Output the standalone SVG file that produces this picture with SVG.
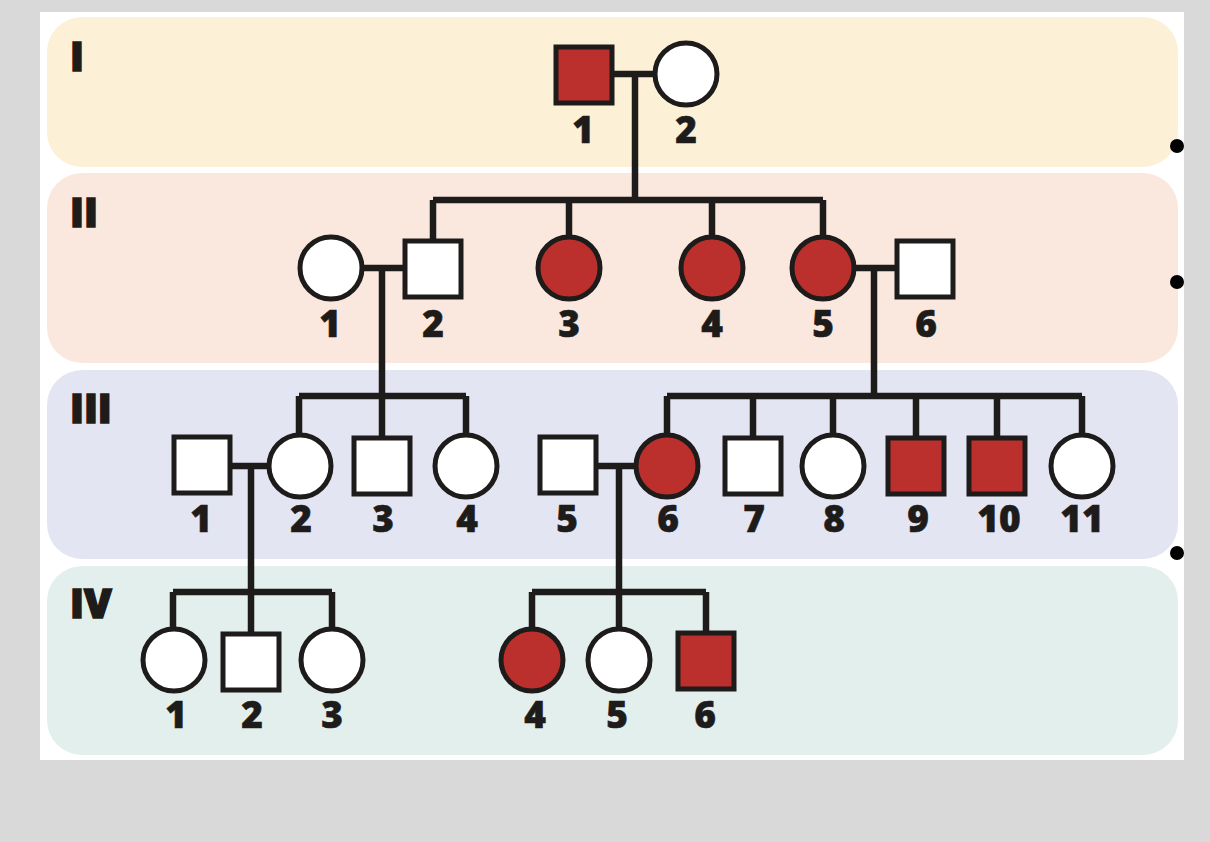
<svg xmlns="http://www.w3.org/2000/svg" width="1210" height="842" viewBox="0 0 1210 842">
<style>
.sym{stroke:#1e1b1b;stroke-width:5}
.n{fill:#fff}
.a{fill:#bb2f2c}
.ln{fill:none;stroke:#1e1b1b;stroke-width:6.5;stroke-linecap:butt;stroke-linejoin:miter}
.lb{font-family:"Open Sans","Liberation Sans",sans-serif;font-weight:800;font-size:37px;fill:#1e1b1b;stroke:#1e1b1b;stroke-width:0.6;text-anchor:middle}
.gen{font-family:"Open Sans","Liberation Sans",sans-serif;font-weight:800;font-size:40px;fill:#1e1b1b;stroke:#1e1b1b;stroke-width:1.6}
.dot{fill:#000}
</style>
<rect x="0" y="0" width="1210" height="842" fill="#d9d9d9"/>
<rect x="40" y="12" width="1144" height="748" fill="#fff"/>
<g id="bands">
<rect x="47" y="17" width="1131" height="150" rx="35" fill="#fcf0d6"/>
<rect x="47" y="173" width="1131" height="190" rx="35" fill="#fae8de"/>
<rect x="47" y="370" width="1131" height="189" rx="35" fill="#e4e5f3"/>
<rect x="47" y="566" width="1131" height="189" rx="35" fill="#e3efec"/>
</g>
<g id="generations">
<text class="gen" x="70" y="71">I</text>
<text class="gen" x="70" y="227">II</text>
<text class="gen" x="70" y="423">III</text>
<text class="gen" x="70" y="618">IV</text>
</g>
<g id="dots">
<circle class="dot" cx="1177" cy="146" r="7"/>
<circle class="dot" cx="1177" cy="282" r="7"/>
<circle class="dot" cx="1177" cy="553" r="7"/>
</g>
<g id="connectors">
<path class="ln" d="M614 74H654M635 74V200M433 200H823M433 200V240M569 200V236M712 200V236M823 200V236"/>
<path class="ln" d="M362 268H404M382 268V396M299 396H466M299 396V434M382 396V436M466 396V434"/>
<path class="ln" d="M854 268H896M874 268V396M667 396H1082M667 396V434M753 396V436M833 396V434M916 396V436M997 396V436M1082 396V434"/>
<path class="ln" d="M231 466H270M251 466V592M173 592H332M173 592V628M251 592V632M332 592V628"/>
<path class="ln" d="M598 466H636M619 466V592M532 592H706M532 592V628M619 592V628M706 592V632"/>
</g>
<g id="I-1"><rect class="sym a" x="556" y="47" width="56" height="56"/><text class="lb" x="583" y="143">1</text></g>
<g id="I-2"><circle class="sym n" cx="686" cy="74" r="31"/><text class="lb" x="686" y="143">2</text></g>
<g id="II-1"><circle class="sym n" cx="331" cy="268" r="31"/><text class="lb" x="330" y="337">1</text></g>
<g id="II-2"><rect class="sym n" x="405" y="241" width="56" height="56"/><text class="lb" x="433" y="337">2</text></g>
<g id="II-3"><circle class="sym a" cx="569" cy="268" r="31"/><text class="lb" x="569" y="337">3</text></g>
<g id="II-4"><circle class="sym a" cx="712" cy="268" r="31"/><text class="lb" x="712" y="337">4</text></g>
<g id="II-5"><circle class="sym a" cx="823" cy="268" r="31"/><text class="lb" x="823" y="337">5</text></g>
<g id="II-6"><rect class="sym n" x="897" y="241" width="56" height="56"/><text class="lb" x="926" y="337">6</text></g>
<g id="III-1"><rect class="sym n" x="174" y="437" width="56" height="56"/><text class="lb" x="201" y="532">1</text></g>
<g id="III-2"><circle class="sym n" cx="300" cy="466" r="31"/><text class="lb" x="301" y="532">2</text></g>
<g id="III-3"><rect class="sym n" x="354" y="438" width="56" height="56"/><text class="lb" x="383" y="532">3</text></g>
<g id="III-4"><circle class="sym n" cx="466" cy="466" r="31"/><text class="lb" x="467" y="532">4</text></g>
<g id="III-5"><rect class="sym n" x="540" y="437" width="56" height="56"/><text class="lb" x="567" y="532">5</text></g>
<g id="III-6"><circle class="sym a" cx="667" cy="466" r="31"/><text class="lb" x="668" y="532">6</text></g>
<g id="III-7"><rect class="sym n" x="725" y="438" width="56" height="56"/><text class="lb" x="754" y="532">7</text></g>
<g id="III-8"><circle class="sym n" cx="833" cy="466" r="31"/><text class="lb" x="834" y="532">8</text></g>
<g id="III-9"><rect class="sym a" x="888" y="438" width="56" height="56"/><text class="lb" x="918" y="532">9</text></g>
<g id="III-10"><rect class="sym a" x="969" y="438" width="56" height="56"/><text class="lb" x="999" y="532">10</text></g>
<g id="III-11"><circle class="sym n" cx="1082" cy="466" r="31"/><text class="lb" x="1082" y="532">11</text></g>
<g id="IV-1"><circle class="sym n" cx="174" cy="660" r="31"/><text class="lb" x="176" y="728">1</text></g>
<g id="IV-2"><rect class="sym n" x="223" y="634" width="56" height="56"/><text class="lb" x="252" y="728">2</text></g>
<g id="IV-3"><circle class="sym n" cx="332" cy="660" r="31"/><text class="lb" x="332" y="728">3</text></g>
<g id="IV-4"><circle class="sym a" cx="532" cy="660" r="31"/><text class="lb" x="535" y="728">4</text></g>
<g id="IV-5"><circle class="sym n" cx="619" cy="660" r="31"/><text class="lb" x="617" y="728">5</text></g>
<g id="IV-6"><rect class="sym a" x="678" y="633" width="56" height="56"/><text class="lb" x="705" y="728">6</text></g>
</svg>
